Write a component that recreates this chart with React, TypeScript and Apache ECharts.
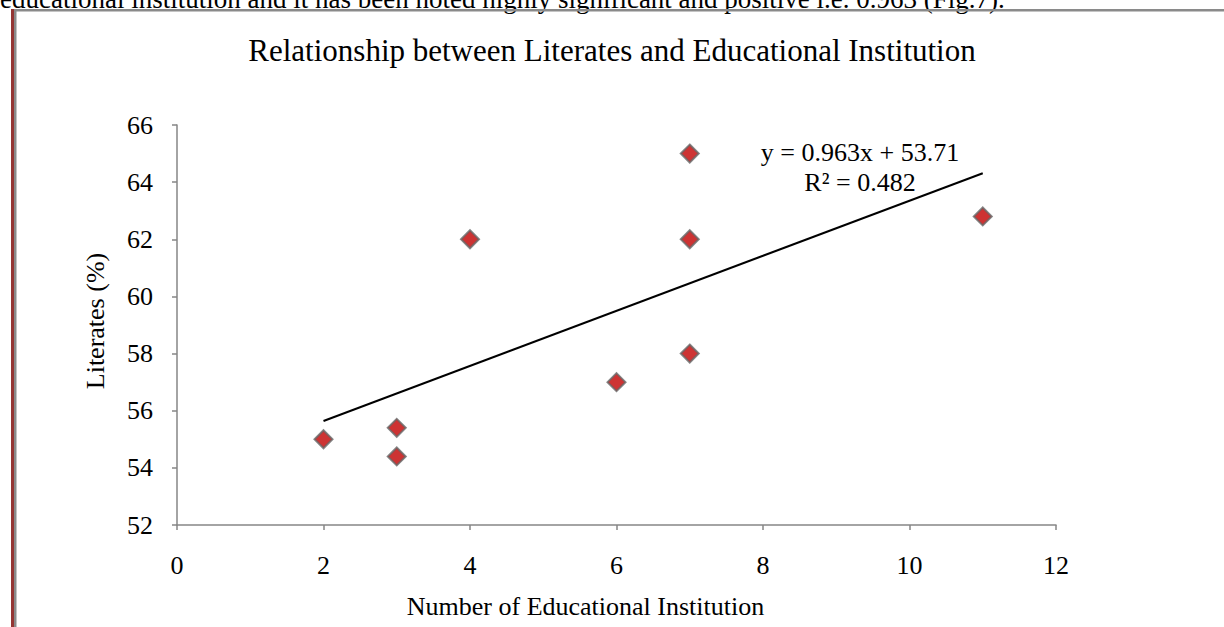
import React, { useEffect, useRef } from "react";
import * as echarts from "echarts";

const institutions = [2, 3, 3, 4, 6, 7, 7, 7, 11];
const literates = [55, 55.4, 54.4, 62, 57, 65, 62, 58, 62.8];
const xTicks = { min: 0, max: 12, interval: 2 };
const yTicks = { min: 52, max: 66, interval: 2 };
const titleText = "Relationship between Literates and Educational Institution";
const xName = "Number of Educational Institution";
const yName = "Literates (%)";
const topText =
  "educational institution and it has been noted highly significant and positive i.e. 0.963 (Fig.7).";

function regression(xs: number[], ys: number[]) {
  const n = xs.length;
  const mx = xs.reduce((a, b) => a + b, 0) / n;
  const my = ys.reduce((a, b) => a + b, 0) / n;
  let sxy = 0, sxx = 0, syy = 0;
  for (let i = 0; i < n; i++) {
    sxy += (xs[i] - mx) * (ys[i] - my);
    sxx += (xs[i] - mx) ** 2;
    syy += (ys[i] - my) ** 2;
  }
  const slope = sxy / sxx;
  const intercept = my - slope * mx;
  const r2 = (sxy * sxy) / (sxx * syy);
  return { slope, intercept, r2 };
}

export default function App() {
  const ref = useRef<HTMLDivElement>(null);
  useEffect(() => {
    document.body.style.margin = "0";
    const chart = echarts.init(ref.current!, null, { renderer: "svg" });
    const { slope, intercept, r2 } = regression(institutions, literates);
    const xMin = Math.min(...institutions);
    const xMax = Math.max(...institutions);
    const trend = [
      [xMin, slope * xMin + intercept],
      [xMax, slope * xMax + intercept],
    ];
    const font = "'Liberation Serif', 'Times New Roman', serif";
    const axisLine = { show: true, lineStyle: { color: "#868686", width: 1.5 } };
    const axisTick = { show: true, length: 5, lineStyle: { color: "#868686", width: 1.5 } };
    chart.setOption({
      animation: false,
      backgroundColor: "#ffffff",
      textStyle: { fontFamily: font },
      title: {
        text: titleText,
        left: "center",
        top: 30,
        textStyle: { fontFamily: font, fontSize: 31, fontWeight: "normal", color: "#000" },
      },
      grid: { left: 177, right: 168, top: 125, bottom: 102 },
      xAxis: {
        type: "value",
        ...xTicks,
        name: xName,
        nameLocation: "middle",
        nameGap: 68,
        nameTextStyle: { fontFamily: font, fontSize: 26, color: "#000", padding: [0, 62, 0, 0] },
        axisLine,
        axisTick,
        axisLabel: { margin: 27, fontFamily: font, fontSize: 26, color: "#000" },
        splitLine: { show: false },
      },
      yAxis: {
        type: "value",
        ...yTicks,
        name: yName,
        nameLocation: "middle",
        nameGap: 69,
        nameTextStyle: { fontFamily: font, fontSize: 26, color: "#000", padding: [0, 0, 0, 8] },
        axisLine,
        axisTick,
        axisLabel: { margin: 24, fontFamily: font, fontSize: 26, color: "#000" },
        splitLine: { show: false },
      },
      series: [
        {
          type: "line",
          data: trend,
          symbol: "none",
          lineStyle: { color: "#000", width: 2 },
          silent: true,
          z: 1,
        },
        {
          type: "scatter",
          data: institutions.map((x, i) => [x, literates[i]]),
          symbol: "diamond",
          symbolSize: 18,
          itemStyle: { color: "#C00000", borderColor: "#666666", borderWidth: 2 },
          z: 3,
        },
      ],
      graphic: [
        {
          type: "text",
          z: 10,
          style: {
            text: "y = " + slope.toFixed(3) + "x + " + intercept.toFixed(2),
            x: 860,
            y: 152,
            font: "26px " + font,
            fill: "#000",
            align: "center",
            verticalAlign: "middle",
          },
        },
        {
          type: "text",
          z: 10,
          style: {
            text: "R² = " + r2.toFixed(3),
            x: 860,
            y: 182,
            font: "26px " + font,
            fill: "#000",
            align: "center",
            verticalAlign: "middle",
          },
        },
        {
          type: "text",
          style: {
            text: topText,
            x: 0,
            y: -15,
            font: "27px " + font,
            fill: "#000",
          },
        },
        { type: "rect", shape: { x: 14, y: 9, width: 1224, height: 2.5 }, style: { fill: "#8a8a8a" } },
        { type: "rect", shape: { x: 14, y: 9, width: 2.5, height: 627 }, style: { fill: "#8a8a8a" } },
        { type: "rect", shape: { x: 11, y: 9, width: 3, height: 627 }, style: { fill: "#943634" } },
      ],
    });
    return () => chart.dispose();
  }, []);
  return (
    <div
      ref={ref}
      style={{ position: "fixed", left: 0, top: 0, width: 1224, height: 627 }}
    />
  );
}
